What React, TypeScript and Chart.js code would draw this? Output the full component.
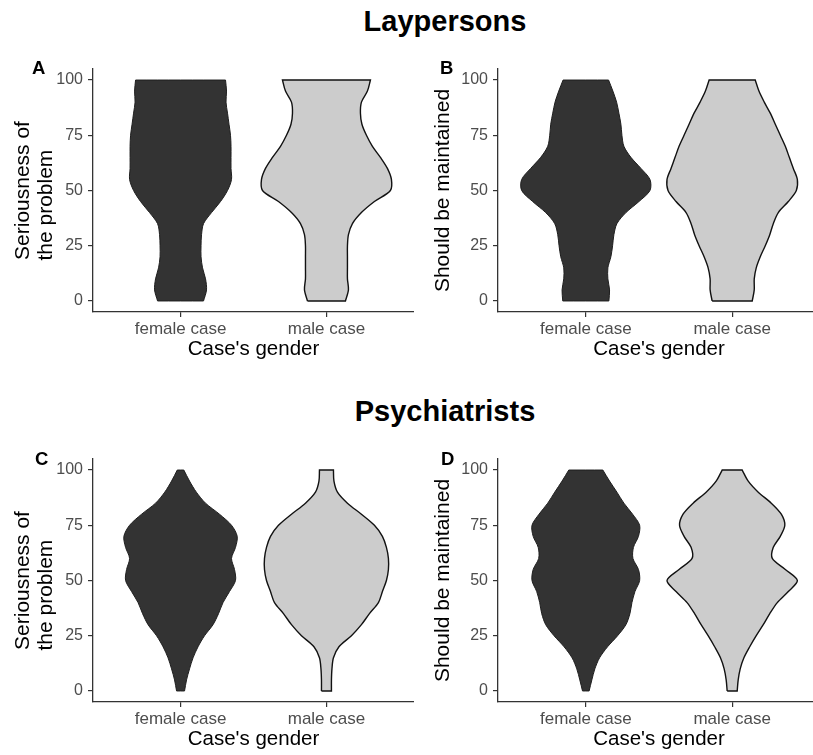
import React, { useEffect, useRef } from 'react';
import { Chart, registerables } from 'chart.js';

Chart.register(...registerables);

// ---------------- data ----------------
const categories = ['female case', 'male case'];
const yTicks = [0, 25, 50, 75, 100];
// response values at which violin densities were read (0..100 step 5)
const densityGrid = [0, 5, 10, 15, 20, 25, 30, 35, 40, 45, 50, 55, 60, 65, 70, 75, 80, 85, 90, 95, 100];

// Laypersons – seriousness of the problem (relative density)
const layFemaleSerious = [23, 26, 25, 22, 20.5, 20.5, 21, 23, 31, 40, 47, 51, 50.5, 50.5, 50.5, 50, 48.5, 47, 45.5, 46, 45];
const layMaleSerious = [19, 22, 21, 21, 21, 21, 22, 26, 35, 48, 64, 65, 61, 54, 46, 40, 35.5, 34, 35, 41, 44];
// Laypersons – should be maintained
const layFemaleMaintain = [23, 23.7, 22, 22, 25, 26.7, 28, 31, 40, 53, 64, 64, 55, 45, 38, 36, 35, 33, 30.7, 27, 22.7];
const layMaleMaintain = [20, 22, 22, 24, 28, 33, 37.5, 41, 46, 56, 64, 65, 61, 57, 53, 48, 43, 38, 32, 26.7, 23];
// Psychiatrists – seriousness of the problem
const psyFemaleSerious = [4, 6, 9, 12.5, 17.5, 24, 32.5, 38, 42.5, 49, 55, 54, 51, 55, 56.7, 51, 39, 25, 15.8, 9, 3.3];
const psyMaleSerious = [5, 5, 5.5, 7, 12.5, 25, 35, 43, 52, 56, 60, 62, 62, 60, 56, 48, 35, 21, 11, 7.5, 7];
// Psychiatrists – should be maintained
const psyFemaleMaintain = [3.3, 6, 9, 13.7, 21.7, 31.7, 40, 44, 46, 49, 53.7, 52.5, 47, 47.5, 52.5, 53.7, 46.7, 38, 31, 23.7, 17];
const psyMaleMaintain = [5, 6, 8, 11.7, 17.5, 24, 31, 37.5, 45, 56, 65, 53, 40, 41, 48, 52.5, 49, 39, 26, 16, 10];

// ---------------- styling ----------------
const FONT = '"Liberation Sans", Arial, Helvetica, sans-serif';
const DENSITY_TO_WIDTH = 1 / 146; // relative density -> half width in category units
const AXIS_COLOR = '#333333';
const FEMALE_FILL = '#333333';
const MALE_FILL = '#cccccc';

// closed outline: left side bottom->top, flat top, right side top->bottom, flat bottom.
// corner points are doubled so the spline keeps the trimmed ends flat and sharp.
function violinPoints(center: number, dens: number[]) {
  const leftSide = densityGrid.map((y, i) => ({ x: center - dens[i] * DENSITY_TO_WIDTH, y }));
  const rightSide = densityGrid.map((y, i) => ({ x: center + dens[i] * DENSITY_TO_WIDTH, y })).reverse();
  const lTop = leftSide[leftSide.length - 1];
  const rBottom = rightSide[rightSide.length - 1];
  return [...leftSide, lTop, rightSide[0], ...rightSide, rBottom, leftSide[0]];
}

type PanelProps = {
  left: number;
  top: number;
  width: number;
  yAxisWidth: number;
  yTitle: string | string[];
  female: number[];
  male: number[];
};

function ViolinPanel({ left, top, width, yAxisWidth, yTitle, female, male }: PanelProps) {
  const ref = useRef<HTMLCanvasElement | null>(null);
  useEffect(() => {
    if (!ref.current) return;
    const chart = new Chart(ref.current, {
      type: 'scatter',
      data: {
        datasets: [
          {
            data: violinPoints(1, female),
            showLine: true,
            fill: 'shape',
            backgroundColor: FEMALE_FILL,
            borderColor: '#1e1e1e',
            borderWidth: 1,
            pointRadius: 0,
            tension: 0.3,
          },
          {
            data: violinPoints(2, male),
            showLine: true,
            fill: 'shape',
            backgroundColor: MALE_FILL,
            borderColor: '#111111',
            borderWidth: 1.4,
            pointRadius: 0,
            tension: 0.3,
          },
        ],
      } as any,
      options: {
        animation: false,
        responsive: false,
        maintainAspectRatio: false,
        devicePixelRatio: 1,
        layout: { padding: { top: 19, left: 0, right: 0, bottom: 0 } },
        plugins: { legend: { display: false }, tooltip: { enabled: false } },
        scales: {
          x: {
            type: 'linear',
            min: 0.4,
            max: 2.6,
            afterBuildTicks: (s: any) => {
              s.ticks = categories.map((_, i) => ({ value: i + 1 }));
            },
            afterFit: (s: any) => {
              s.height = 50;
            },
            ticks: {
              callback: (v: any) => categories[Number(v) - 1],
              color: '#4d4d4d',
              font: { family: FONT, size: 17 },
              padding: 2,
              autoSkip: false,
              maxRotation: 0,
            },
            grid: {
              display: true,
              drawOnChartArea: false,
              drawTicks: true,
              tickLength: 5,
              color: AXIS_COLOR,
              lineWidth: 1.2,
            },
            border: { display: true, color: AXIS_COLOR, width: 1.3 },
            title: {
              display: true,
              text: "Case's gender",
              color: '#000000',
              font: { family: FONT, size: 20.5, lineHeight: 1.2 },
              padding: { top: 0, bottom: 0 },
            },
          },
          y: {
            type: 'linear',
            min: -5,
            max: 105,
            afterBuildTicks: (s: any) => {
              s.ticks = yTicks.map((v) => ({ value: v }));
            },
            afterFit: (s: any) => {
              s.width = yAxisWidth;
            },
            ticks: {
              color: '#4d4d4d',
              font: { family: FONT, size: 16 },
              padding: 5,
            },
            grid: {
              display: true,
              drawOnChartArea: false,
              drawTicks: true,
              tickLength: 5,
              color: AXIS_COLOR,
              lineWidth: 1.2,
            },
            border: { display: true, color: AXIS_COLOR, width: 1.3 },
            title: {
              display: true,
              text: yTitle,
              color: '#000000',
              font: { family: FONT, size: 21, lineHeight: 1.12 },
              padding: { top: 11, bottom: 0 },
            },
          },
        },
      } as any,
    });
    return () => chart.destroy();
  }, []);
  return (
    <canvas
      ref={ref}
      width={width}
      height={312}
      style={{ position: 'absolute', left, top, width, height: 312 }}
    />
  );
}

const letterStyle: React.CSSProperties = {
  position: 'absolute',
  fontFamily: FONT,
  fontWeight: 'bold',
  fontSize: 18.5,
  lineHeight: '18.5px',
  color: '#000',
  margin: 0,
};

const titleStyle: React.CSSProperties = {
  position: 'absolute',
  left: 0,
  width: 890,
  textAlign: 'center',
  fontFamily: FONT,
  fontWeight: 'bold',
  fontSize: 29,
  lineHeight: '29px',
  color: '#000',
};

export default function App() {
  return (
    <div
      style={{
        position: 'absolute',
        left: 0,
        top: 0,
        width: 813,
        height: 755,
        overflow: 'hidden',
        background: '#ffffff',
      }}
    >
      <div style={{ ...titleStyle, top: 7 }}>Laypersons</div>
      <div style={{ ...titleStyle, top: 397 }}>Psychiatrists</div>

      <ViolinPanel left={0} top={50} width={414} yAxisWidth={93}
        yTitle={['Seriousness of', 'the problem     ']} female={layFemaleSerious} male={layMaleSerious} />
      <ViolinPanel left={420} top={50} width={400} yAxisWidth={78}
        yTitle="Should be maintained" female={layFemaleMaintain} male={layMaleMaintain} />
      <ViolinPanel left={0} top={440} width={414} yAxisWidth={93}
        yTitle={['Seriousness of', 'the problem     ']} female={psyFemaleSerious} male={psyMaleSerious} />
      <ViolinPanel left={420} top={440} width={400} yAxisWidth={78}
        yTitle="Should be maintained" female={psyFemaleMaintain} male={psyMaleMaintain} />

      <div style={{ ...letterStyle, left: 32, top: 59 }}>A</div>
      <div style={{ ...letterStyle, left: 440, top: 59 }}>B</div>
      <div style={{ ...letterStyle, left: 35, top: 450 }}>C</div>
      <div style={{ ...letterStyle, left: 441, top: 450 }}>D</div>
    </div>
  );
}
